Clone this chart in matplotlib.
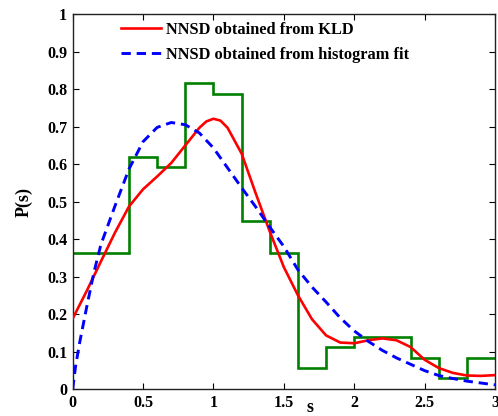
import matplotlib
matplotlib.use("Agg")
import matplotlib.pyplot as plt

# Histogram (step) data
hist_edges = [0.0, 0.4, 0.6, 0.8, 1.0, 1.2, 1.4, 1.6, 1.8, 2.0, 2.4, 2.6, 2.8, 3.0]
hist_vals = [0.364, 0.619, 0.591, 0.816, 0.788, 0.449, 0.364, 0.056, 0.112, 0.139, 0.084, 0.029, 0.084]

# NNSD obtained from KLD (red)
kld_s = [0.0, 0.1, 0.2, 0.3, 0.4, 0.5, 0.6, 0.7, 0.8, 0.9, 0.95, 1.0, 1.05, 1.1, 1.2, 1.3,
         1.4, 1.5, 1.6, 1.7, 1.8, 1.9, 2.0, 2.1, 2.2, 2.3, 2.4, 2.5, 2.6, 2.7, 2.8, 2.9, 3.0]
kld_p = [0.188, 0.262, 0.340, 0.417, 0.487, 0.533, 0.567, 0.603, 0.650, 0.697, 0.714, 0.721,
         0.716, 0.697, 0.628, 0.522, 0.420, 0.325, 0.250, 0.186, 0.143, 0.124, 0.122, 0.130,
         0.135, 0.130, 0.112, 0.078, 0.056, 0.043, 0.036, 0.035, 0.037]

# NNSD obtained from histogram fit (blue dashed)
fit_s = [0.0, 0.02, 0.05, 0.1, 0.15, 0.2, 0.3, 0.4, 0.5, 0.6, 0.7, 0.8, 0.9, 1.0, 1.1, 1.2,
         1.3, 1.4, 1.5, 1.6, 1.7, 1.8, 1.9, 2.0, 2.1, 2.2, 2.3, 2.4, 2.5, 2.6, 2.7, 2.8, 2.9, 3.0]
fit_p = [0.0, 0.06, 0.125, 0.22, 0.31, 0.385, 0.488, 0.587, 0.660, 0.698, 0.711, 0.705,
         0.683, 0.643, 0.590, 0.537, 0.486, 0.432, 0.380, 0.318, 0.272, 0.232, 0.190, 0.155,
         0.127, 0.103, 0.083, 0.066, 0.049, 0.036, 0.028, 0.021, 0.016, 0.011]

x_ticks = [0, 0.5, 1, 1.5, 2, 2.5, 3]
x_ticklabels = ["0", "0.5", "1", "1.5", "2", "2.5", "3"]
y_ticks = [0, 0.1, 0.2, 0.3, 0.4, 0.5, 0.6, 0.7, 0.8, 0.9, 1.0]
y_ticklabels = ["0", "0.1", "0.2", "0.3", "0.4", "0.5", "0.6", "0.7", "0.8", "0.9", "1"]

plt.rcParams['font.family'] = ['Liberation Serif', 'DejaVu Serif']
plt.rcParams['font.weight'] = 'bold'

fig = plt.figure(figsize=(4.98, 4.16), dpi=100)
ax = fig.add_axes([0.146, 0.0649, 0.848, 0.901])

ax.stairs(hist_vals, hist_edges, baseline=None, color=(0, 0.5, 0), linewidth=1.9, zorder=2)
l1, = ax.plot(kld_s, kld_p, color='red', linewidth=1.9, label='NNSD obtained from KLD', zorder=3)
l2, = ax.plot(fit_s, fit_p, color='blue', linewidth=2.1, linestyle=(0, (3.2, 2.0)),
              label='NNSD obtained from histogram fit', zorder=3)

ax.set_xlim(0, 3)
ax.set_ylim(0, 1)
ax.set_xticks(x_ticks)
ax.set_xticklabels(x_ticklabels)
ax.set_yticks(y_ticks)
ax.set_yticklabels(y_ticklabels)
ax.tick_params(direction='in', top=True, right=True, length=4, width=0.8,
               labelsize=11.5, pad=4)
for lab in ax.get_xticklabels() + ax.get_yticklabels():
    lab.set_fontweight('bold')
for sp in ax.spines.values():
    sp.set_linewidth(1.0)
    sp.set_color('#222222')

ax.set_ylabel('P(s)', fontsize=13, fontweight='bold', labelpad=10)
fig.text(0.623, 0.009, 's', fontsize=13, fontweight='bold', ha='center', va='baseline')

leg = ax.legend(handles=[l1, l2], loc='upper left', bbox_to_anchor=(0.092, 1.006),
                frameon=False, fontsize=11.8, handlelength=2.4, handletextpad=0.3,
                labelspacing=0.55, borderaxespad=0.2)
for t in leg.get_texts():
    t.set_fontweight('bold')

fig.savefig('out.png', dpi=100)
